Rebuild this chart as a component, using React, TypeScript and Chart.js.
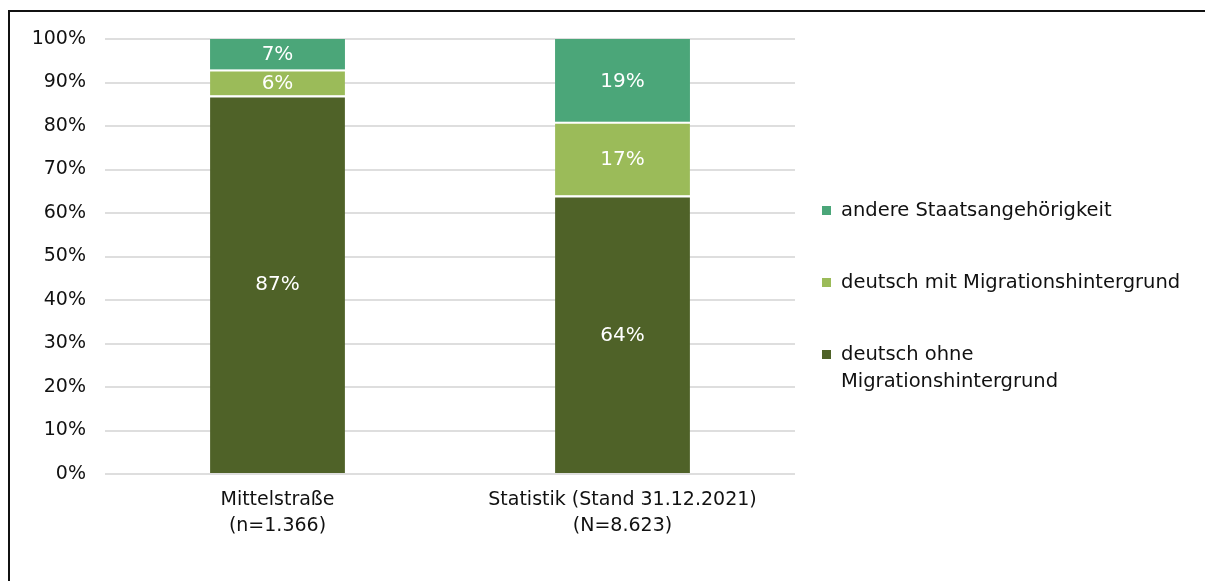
import React, { useEffect, useRef } from "react";
import { Chart, registerables } from "chart.js";

Chart.register(...registerables);

const categories: string[][] = [
  ["Mittelstraße", "(n=1.366)"],
  ["Statistik (Stand 31.12.2021)", "(N=8.623)"],
];
const ohneValues = [87, 64];
const mitValues = [6, 17];
const andereValues = [7, 19];
const seriesLabels = [
  "deutsch ohne\nMigrationshintergrund",
  "deutsch mit Migrationshintergrund",
  "andere Staatsangehörigkeit",
];
const seriesColors = ["#4f6228", "#9bbb59", "#4ba679"];
const yTickValues = [0, 10, 20, 30, 40, 50, 60, 70, 80, 90, 100];

const FONT = "'DejaVu Sans'";
const TEXT = "#111111";

const valueLabelPlugin = {
  id: "valueLabels",
  afterDatasetsDraw(chart: any) {
    const ctx = chart.ctx;
    ctx.save();
    ctx.font = `20px ${FONT}`;
    ctx.fillStyle = "#ffffff";
    ctx.textAlign = "center";
    ctx.textBaseline = "middle";
    chart.data.datasets.forEach((ds: any, i: number) => {
      const meta = chart.getDatasetMeta(i);
      meta.data.forEach((bar: any, j: number) => {
        const v = ds.data[j];
        const y = (bar.y + bar.base) / 2;
        ctx.fillText(`${v}%`, bar.x, y + 1);
      });
    });
    ctx.restore();
  },
};

const legendPlugin = {
  id: "customLegend",
  afterDraw(chart: any) {
    const ctx = chart.ctx;
    ctx.save();
    ctx.font = `19.5px ${FONT}`;
    ctx.textAlign = "left";
    ctx.textBaseline = "middle";
    const items = chart.data.datasets.map((ds: any) => ds).reverse();
    let y = 211;
    const lineH = 27;
    items.forEach((ds: any) => {
      ctx.fillStyle = ds.backgroundColor;
      ctx.fillRect(822, y - 5, 9, 9);
      ctx.fillStyle = TEXT;
      const lines = String(ds.label).split("\n");
      lines.forEach((ln: string, k: number) => {
        ctx.fillText(ln, 841, y + k * lineH);
      });
      y += 72;
    });
    ctx.restore();
  },
};

export default function App() {
  const ref = useRef<HTMLCanvasElement | null>(null);

  useEffect(() => {
    if (!ref.current) return;
    const values = [ohneValues, mitValues, andereValues];
    const chart = new Chart(ref.current, {
      type: "bar",
      data: {
        labels: categories,
        datasets: values.map((vals, i) => ({
          label: seriesLabels[i],
          data: vals,
          backgroundColor: seriesColors[i],
          borderColor: "#ffffff",
          borderWidth: i < 2 ? { top: 2, left: 0, right: 0, bottom: 0 } : 0,
          borderSkipped: false,
          categoryPercentage: 1,
          barPercentage: 0.391,
        })),
      },
      options: {
        responsive: false,
        animation: false,
        devicePixelRatio: 1,
        layout: { padding: { left: 20, right: 410, top: 39, bottom: 47 } },
        plugins: {
          legend: { display: false },
          tooltip: { enabled: false },
          title: { display: false },
        },
        scales: {
          x: {
            stacked: true,
            grid: { display: false, drawTicks: false },
            border: { display: false },
            ticks: {
              color: TEXT,
              font: { family: FONT, size: 19, lineHeight: 1.32 },
              padding: 14,
              maxRotation: 0,
              autoSkip: false,
            },
            afterFit(scale: any) {
              scale.height = 60;
            },
          },
          y: {
            stacked: true,
            min: 0,
            max: 100,
            afterBuildTicks(scale: any) {
              scale.ticks = yTickValues.map((v) => ({ value: v }));
            },
            grid: { color: "#dedede", lineWidth: 2, drawTicks: false },
            border: { display: false },
            ticks: {
              color: TEXT,
              font: { family: FONT, size: 19 },
              padding: 19,
              callback: (v: any) => `${v}%`,
            },
            afterFit(scale: any) {
              scale.width = 85;
            },
          },
        },
      },
      plugins: [valueLabelPlugin, legendPlugin],
    });
    return () => chart.destroy();
  }, []);

  return (
    <div
      style={{
        position: "fixed",
        left: 0,
        top: 0,
        width: 1205,
        height: 581,
        overflow: "hidden",
        background: "#ffffff",
      }}
    >
      <div
        style={{
          position: "absolute",
          left: 8,
          top: 10,
          width: 1300,
          height: 700,
          border: "2px solid #111",
          boxSizing: "border-box",
        }}
      />
      <canvas
        ref={ref}
        width={1205}
        height={581}
        style={{ position: "absolute", left: 0, top: 0, width: 1205, height: 581 }}
      />
    </div>
  );
}
